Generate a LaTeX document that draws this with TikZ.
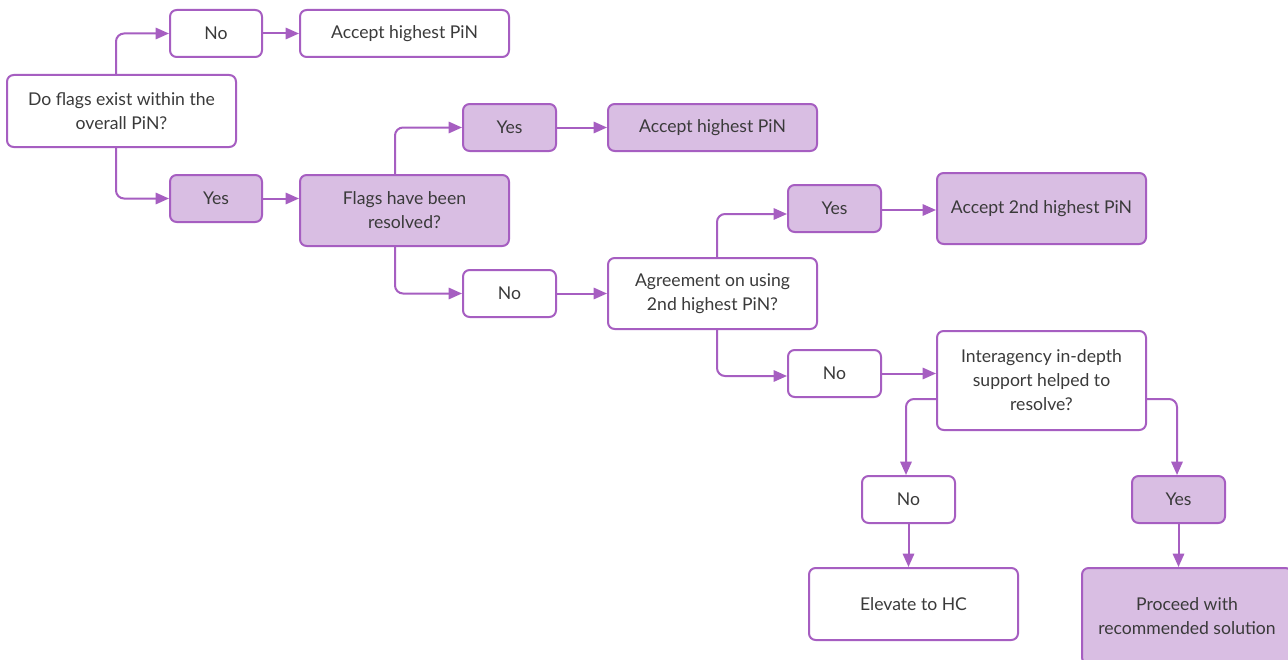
\documentclass[tikz,border=0pt]{standalone}
\usepackage{fontspec}
\setmainfont{Lato}
\usetikzlibrary{arrows.meta}
\definecolor{pline}{HTML}{A65EC1}
\definecolor{pfill}{HTML}{D9BEE3}
\definecolor{ptext}{HTML}{3A3A3A}
\begin{document}
\begin{tikzpicture}[x=0.75pt,y=-0.75pt,
  box/.style={draw=pline,line width=1.5pt,rounded corners=5pt,fill=white,text=ptext,
    align=center,font=\fontsize{13.2}{18}\selectfont,inner sep=0pt},
  hl/.style={box,fill=pfill},
  sz/.style 2 args={minimum width=#1*0.75pt,minimum height=#2*0.75pt},
  conn/.style={draw=pline,line width=1.5pt,rounded corners=6pt,
    -{Triangle[length=10pt,width=8.5pt]}}]
\clip (0,0) rectangle (1288,660);
\fill[white] (0,0) rectangle (1288,660);
% nodes
\node[box,sz={229}{72}] (q1) at (121.5,111) {Do flags exist within the\\overall PiN?};
\node[box,sz={92}{47}] (no1) at (216,33.5) {No};
\node[box,sz={209}{47}] (acc1) at (404.5,33.5) {Accept highest PiN};
\node[hl,sz={92}{47}] (yes1) at (216,198.5) {Yes};
\node[hl,sz={209}{71}] (q2) at (404.5,210.5) {Flags have been\\resolved?};
\node[hl,sz={93}{47}] (yes2) at (509.5,127.5) {Yes};
\node[hl,sz={209}{47}] (acc2) at (712.5,127.5) {Accept highest PiN};
\node[box,sz={93}{47}] (no2) at (509.5,293.5) {No};
\node[box,sz={209}{71}] (q3) at (712.5,293.5) {Agreement on using\\2nd highest PiN?};
\node[hl,sz={93}{47}] (yes3) at (834.5,208.5) {Yes};
\node[hl,sz={209}{71}] (acc3) at (1041.5,208.5) {Accept 2nd highest PiN};
\node[box,sz={93}{47}] (no3) at (834.5,373.5) {No};
\node[box,sz={209}{99}] (q4) at (1041.5,380.5) {Interagency in-depth\\support helped to\\resolve?};
\node[box,sz={93}{47}] (no4) at (908.5,499.5) {No};
\node[box,sz={209}{72}] (elev) at (913.5,604) {Elevate to HC};
\node[hl,sz={93}{47}] (yes4) at (1178.5,499.5) {Yes};
\node[hl,sz={210}{96}] (proc) at (1187,616) {Proceed with\\recommended solution};
% connectors
\draw[conn] (116,0 |- q1.north) |- (no1.west);
\draw[conn] (116,0 |- q1.south) |- (yes1.west);
\draw[conn] (no1) -- (acc1);
\draw[conn] (yes1.east) -- (yes1.east -| q2.west);
\draw[conn] (395,0 |- q2.north) |- (yes2.west);
\draw[conn] (395,0 |- q2.south) |- (no2.west);
\draw[conn] (yes2) -- (acc2);
\draw[conn] (no2) -- (q3);
\draw[conn] (717,0 |- q3.north) |- (yes3.west |- 0,214);
\draw[conn] (yes3.east |- 0,210) -- (acc3.west |- 0,210);
\draw[conn] (717,0 |- q3.south) |- (no3.west |- 0,376);
\draw[conn] (no3.east) -- (no3.east -| q4.west);
\draw[conn] (q4.west |- 0,399) -| (906,0 |- no4.north);
\draw[conn] (q4.east |- 0,399) -| (1177,0 |- yes4.north);
\draw[conn] (no4) -- (no4 |- elev.north);
\draw[conn] (yes4) -- (yes4 |- proc.north);
\end{tikzpicture}
\end{document}
